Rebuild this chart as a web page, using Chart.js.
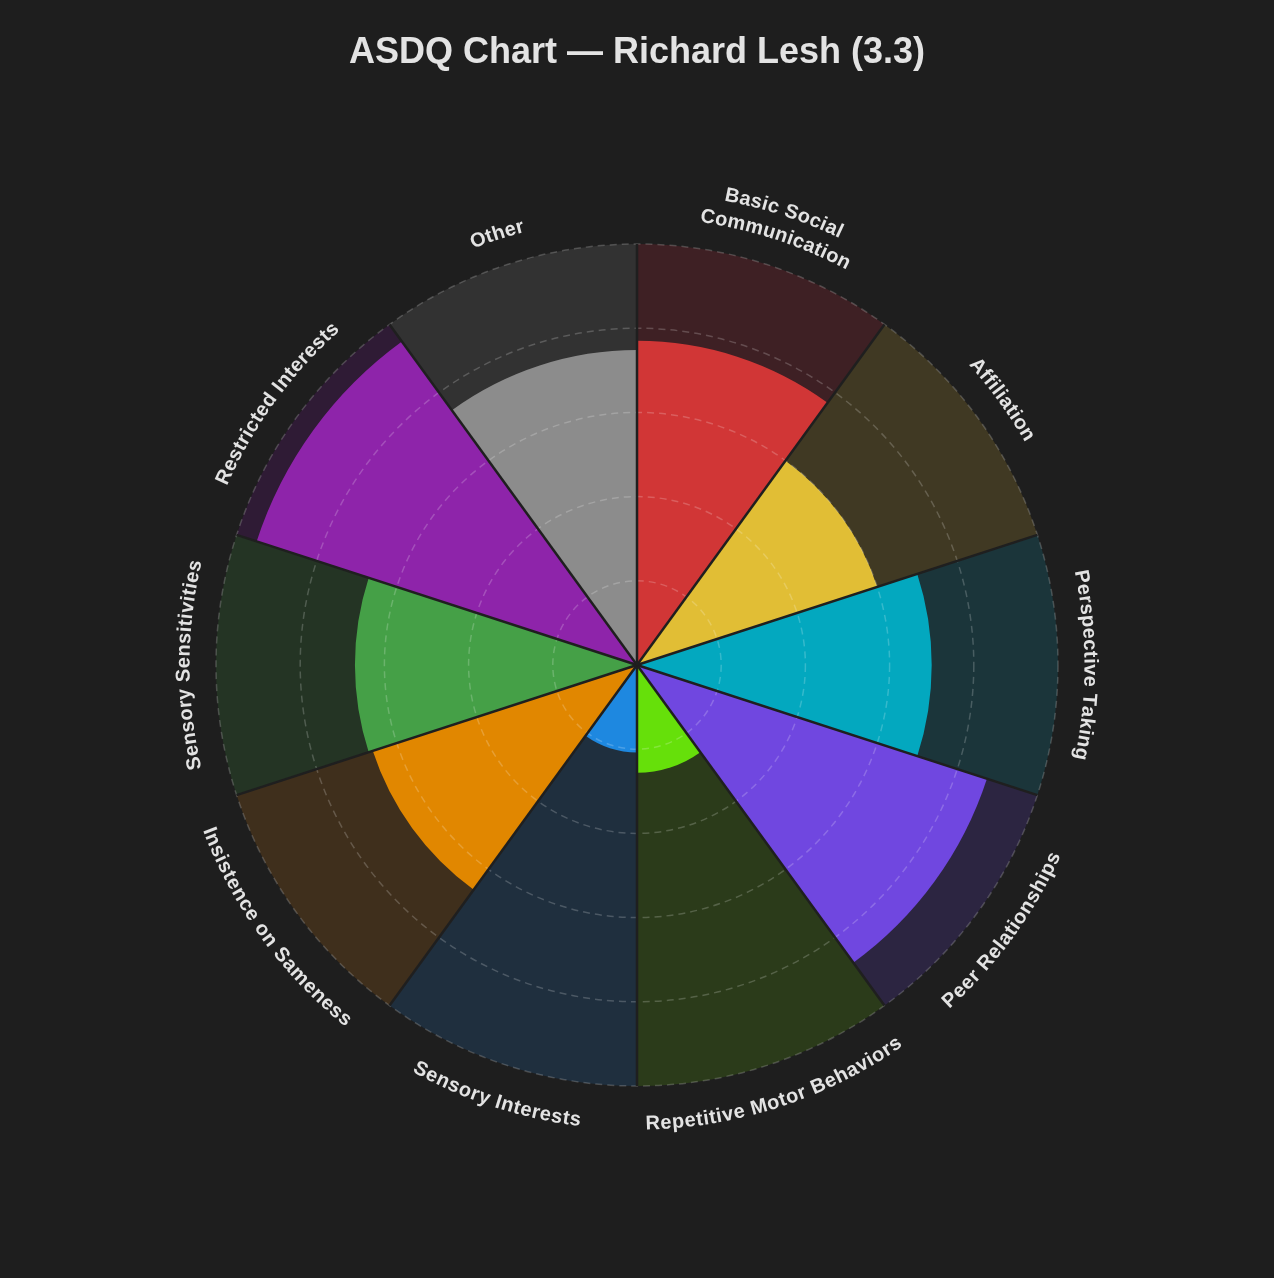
<!DOCTYPE html>
<html>
<head>
<meta charset="utf-8">
<title>ASDQ Chart</title>
<script src="https://cdn.jsdelivr.net/npm/chart.js@4.4.0/dist/chart.umd.min.js"></script>
<style>
  html, body { margin: 0; padding: 0; background: #1e1e1e; }
  #chart-wrap { width: 1274px; height: 1278px; position: relative; }
</style>
</head>
<body>
<div id="chart-wrap"><canvas id="asdq-chart"></canvas></div>
<script>
// Categories, clockwise from 12 o'clock ("\n" splits a label over two lines)
const categories = [
  'Basic Social\nCommunication',
  'Affiliation',
  'Perspective Taking',
  'Peer Relationships',
  'Repetitive Motor Behaviors',
  'Sensory Interests',
  'Insistence on Sameness',
  'Sensory Sensitivities',
  'Restricted Interests',
  'Other'
];

// Scores (radial scale 0 - 5)
const scores = [3.85, 3.0, 3.5, 4.37, 1.28, 1.04, 3.3, 3.35, 4.75, 3.74];
const maxScore = 5;
const trackValues = categories.map(() => maxScore);
const gridSteps = [1, 2, 3, 4, 5];

const barColors = [
  '#d13636', '#e1be35', '#03a8bf', '#7047e0', '#66e00a',
  '#1e88e0', '#e18700', '#45a047', '#8e24aa', '#8c8c8c'
];
const trackColors = [
  '#3e2024', '#403923', '#1b353a', '#2c2541', '#2b3b1a',
  '#1f2f3e', '#3f2f1c', '#243424', '#2f1b35', '#323232'
];

const BG = '#1e1e1e';
const TEXT = '#e3e3e3';
const FONT = '"Liberation Sans", Arial, Helvetica, sans-serif';

/**
 * Draw category names bent along the outside of the circle
 */
const curvedLabels = {
  id: 'curvedLabels',
  afterDraw(chart) {
    const scale = chart.scales.r;
    const ctx = chart.ctx;
    const cx = scale.xCenter;
    const cy = scale.yCenter;
    const lineGap = 25;
    const spacing = 0.5;
    const n = categories.length;

    ctx.save();
    ctx.font = 'bold 20px ' + FONT;
    ctx.fillStyle = TEXT;
    ctx.textAlign = 'center';
    ctx.textBaseline = 'middle';

    categories.forEach((name, i) => {
      const mid = (i + 0.5) * 2 * Math.PI / n; // clockwise from top
      const deg = mid * 180 / Math.PI;
      const clockwise = deg <= 90 || deg >= 270;
      const dir = clockwise ? 1 : -1;
      const baseRadius = scale.drawingArea + (clockwise ? 32 : 38);
      const lines = name.split('\n');

      lines.forEach((line, li) => {
        const r = clockwise
          ? baseRadius + (lines.length - 1 - li) * lineGap
          : baseRadius + li * lineGap;
        const chars = Array.from(line);
        const widths = chars.map(ch => ctx.measureText(ch).width);
        const total = widths.reduce((a, b) => a + b, 0) + spacing * (chars.length - 1);
        let a = mid - dir * total / (2 * r);

        chars.forEach((ch, k) => {
          const ac = a + dir * (widths[k] / 2) / r;
          ctx.save();
          ctx.translate(cx + r * Math.sin(ac), cy - r * Math.cos(ac));
          ctx.rotate(clockwise ? ac : ac - Math.PI);
          ctx.fillText(ch, 0, 0);
          ctx.restore();
          a += dir * (widths[k] + spacing) / r;
        });
      });
    });
    ctx.restore();
  }
};

const bgFill = {
  id: 'bgFill',
  beforeDraw(chart) {
    const ctx = chart.ctx;
    ctx.save();
    ctx.fillStyle = BG;
    ctx.fillRect(0, 0, chart.width, chart.height);
    ctx.restore();
  }
};

function initChart() {
  const ctx = document.getElementById('asdq-chart');

  new Chart(ctx, {
    type: 'polarArea',
    data: {
      labels: categories,
      datasets: [
        {
          label: 'Score',
          data: scores,
          backgroundColor: barColors,
          borderWidth: 0,
          order: 0
        },
        {
          label: 'Max',
          data: trackValues,
          backgroundColor: trackColors,
          borderWidth: 0,
          order: 1
        }
      ]
    },
    options: {
      responsive: true,
      maintainAspectRatio: false,
      animation: false,
      layout: {
        padding: { left: 215, right: 215, bottom: 191, top: 0 }
      },
      plugins: {
        legend: { display: false },
        tooltip: { enabled: false },
        title: {
          display: true,
          text: 'ASDQ Chart \u2014 Richard Lesh (3.3)',
          color: TEXT,
          font: { family: FONT, size: 36, weight: 'bold' },
          padding: { top: 31, bottom: 169 }
        }
      },
      scales: {
        r: {
          min: 0,
          max: maxScore,
          afterBuildTicks(scale) {
            scale.ticks = [0, ...gridSteps].map(v => ({ value: v }));
          },
          ticks: { display: false },
          pointLabels: { display: false },
          grid: {
            z: 1, // draw rings and spokes above the arcs
            circular: true,
            color: 'rgba(255,255,255,0.2)',
            lineWidth: 1.5
          },
          border: { dash: [7, 5] },
          angleLines: {
            display: true,
            color: '#1f1f1f',
            lineWidth: 2.5
          }
        }
      }
    },
    plugins: [bgFill, curvedLabels]
  });
}

initChart();
</script>
</body>
</html>
